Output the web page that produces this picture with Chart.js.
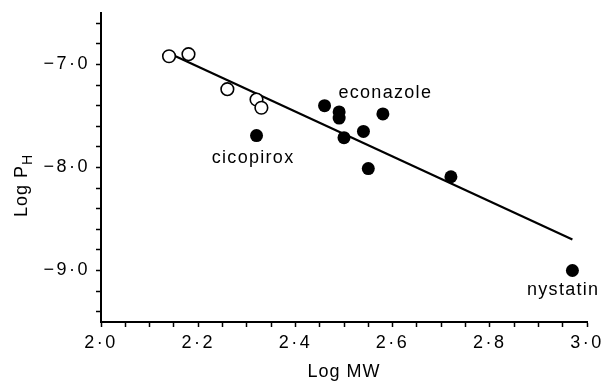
<!DOCTYPE html>
<html>
<head>
<meta charset="utf-8">
<script src="https://cdn.jsdelivr.net/npm/chart.js@4/dist/chart.umd.min.js"></script>
<style>
  html, body { margin: 0; padding: 0; background: #fff; }
  #wrap { width: 607px; height: 382px; }
</style>
</head>
<body>
<div id="wrap"><canvas id="c" width="607" height="382"></canvas></div>
<script>
// ---- data ----
const openX = [2.14, 2.18, 2.26, 2.32, 2.33];
const openY = [-6.92, -6.90, -7.24, -7.34, -7.42];
const filledX = [2.32, 2.46, 2.49, 2.49, 2.58, 2.50, 2.54, 2.55, 2.72, 2.97];
const filledY = [-7.69, -7.40, -7.46, -7.52, -7.48, -7.71, -7.65, -8.01, -8.09, -9.00];
const fitX = [2.14, 2.97];
const fitY = [-6.89, -8.70];
const labelNames = ['econazole', 'cicopirox', 'nystatin'];
const labelX = [2.585, 2.313, 2.951];
const labelY = [-7.28, -7.91, -9.19];
const xTickValues = [2.0, 2.2, 2.4, 2.6, 2.8, 3.0];
const xTickLabels = ['2·0', '2·2', '2·4', '2·6', '2·8', '3·0'];
const yTickValues = [-7, -8, -9];
const yTickLabels = ['−7·0', '−8·0', '−9·0'];
const yMinorStep = 0.2;
const xTitle = 'Log MW';
const yTitle = 'Log P';
const yTitleSub = 'H';

const FONT = '"Liberation Sans", Arial, Helvetica, sans-serif';

function labelFor(values, labels, v) {
  for (let i = 0; i < values.length; i++) {
    if (Math.abs(values[i] - v) < 1e-6) return labels[i];
  }
  return '';
}

const spacingPlugin = {
  id: 'spacing',
  beforeDraw(chart) { chart.ctx.letterSpacing = '2.5px'; }
};

const textPlugin = {
  id: 'texts',
  afterDraw(chart) {
    const ctx = chart.ctx;
    const xs = chart.scales.x, ys = chart.scales.y;
    ctx.save();
    ctx.fillStyle = '#000';
    ctx.letterSpacing = '1.3px';
    ctx.font = '18px ' + FONT;
    ctx.textAlign = 'center';
    ctx.textBaseline = 'middle';
    for (let i = 0; i < labelNames.length; i++) {
      ctx.fillText(labelNames[i], xs.getPixelForValue(labelX[i]), ys.getPixelForValue(labelY[i]));
    }
    // x title
    ctx.letterSpacing = '1px';
    ctx.textBaseline = 'alphabetic';
    const ca = chart.chartArea;
    ctx.fillText(xTitle, (ca.left + ca.right) / 2, 377);
    // y title with subscript
    ctx.translate(27, (ca.top + ca.bottom) / 2 + 18);
    ctx.rotate(-Math.PI / 2);
    ctx.textAlign = 'left';
    ctx.font = '18px ' + FONT;
    const w1 = ctx.measureText(yTitle).width;
    ctx.font = '14px ' + FONT;
    const w2 = ctx.measureText(yTitleSub).width;
    const start = -(w1 + w2) / 2;
    ctx.font = '18px ' + FONT;
    ctx.fillText(yTitle, start, 0);
    ctx.font = '14px ' + FONT;
    ctx.fillText(yTitleSub, start + w1, 5);
    ctx.restore();
  }
};

new Chart(document.getElementById('c'), {
  type: 'scatter',
  data: {
    datasets: [
      {
        type: 'line',
        data: fitX.map((x, i) => ({x, y: fitY[i]})),
        borderColor: '#000',
        borderWidth: 2.2,
        pointRadius: 0,
        fill: false,
        order: 3
      },
      {
        data: openX.map((x, i) => ({x, y: openY[i]})),
        pointRadius: 6.3,
        pointBackgroundColor: '#fff',
        pointBorderColor: '#000',
        pointBorderWidth: 1.6,
        order: 1
      },
      {
        data: filledX.map((x, i) => ({x, y: filledY[i]})),
        pointRadius: 6.5,
        pointBackgroundColor: '#000',
        pointBorderColor: '#000',
        pointBorderWidth: 0,
        order: 2
      }
    ]
  },
  options: {
    responsive: false,
    animation: false,
    events: [],
    layout: { padding: { top: 13, right: 20, left: 0, bottom: 0 } },
    plugins: { legend: { display: false }, tooltip: { enabled: false } },
    scales: {
      x: {
        type: 'linear',
        min: 2.0,
        max: 3.0,
        afterFit(scale) { scale.height = 60; scale.paddingLeft = 0; scale.paddingRight = 0; },
        border: { display: true, color: '#000', width: 2 },
        grid: { drawOnChartArea: false, drawTicks: true, tickLength: 5, tickColor: '#000', tickWidth: 1.5 },
        ticks: {
          stepSize: 0.05,
          autoSkip: false,
          maxRotation: 0,
          padding: 5,
          color: '#000',
          font: { family: FONT, size: 18 },
          callback: (v) => labelFor(xTickValues, xTickLabels, v)
        }
      },
      y: {
        type: 'linear',
        min: -9.5,
        max: -6.5,
        afterFit(scale) { scale.width = 101; scale.paddingTop = 0; scale.paddingBottom = 0; },
        afterBuildTicks(scale) {
          const ticks = [];
          const first = Math.ceil(scale.min / yMinorStep + 1e-9);
          const last = Math.floor(scale.max / yMinorStep - 1e-9);
          for (let k = first; k <= last; k++) ticks.push({ value: k * yMinorStep });
          scale.ticks = ticks;
        },
        border: { display: true, color: '#000', width: 2 },
        grid: { drawOnChartArea: false, drawTicks: true, tickLength: 5, tickColor: '#000', tickWidth: 1.5 },
        ticks: {
          autoSkip: false,
          padding: 6,
          color: '#000',
          font: { family: FONT, size: 18 },
          callback: (v) => labelFor(yTickValues, yTickLabels, v)
        }
      }
    }
  },
  plugins: [spacingPlugin, textPlugin]
});
</script>
</body>
</html>
